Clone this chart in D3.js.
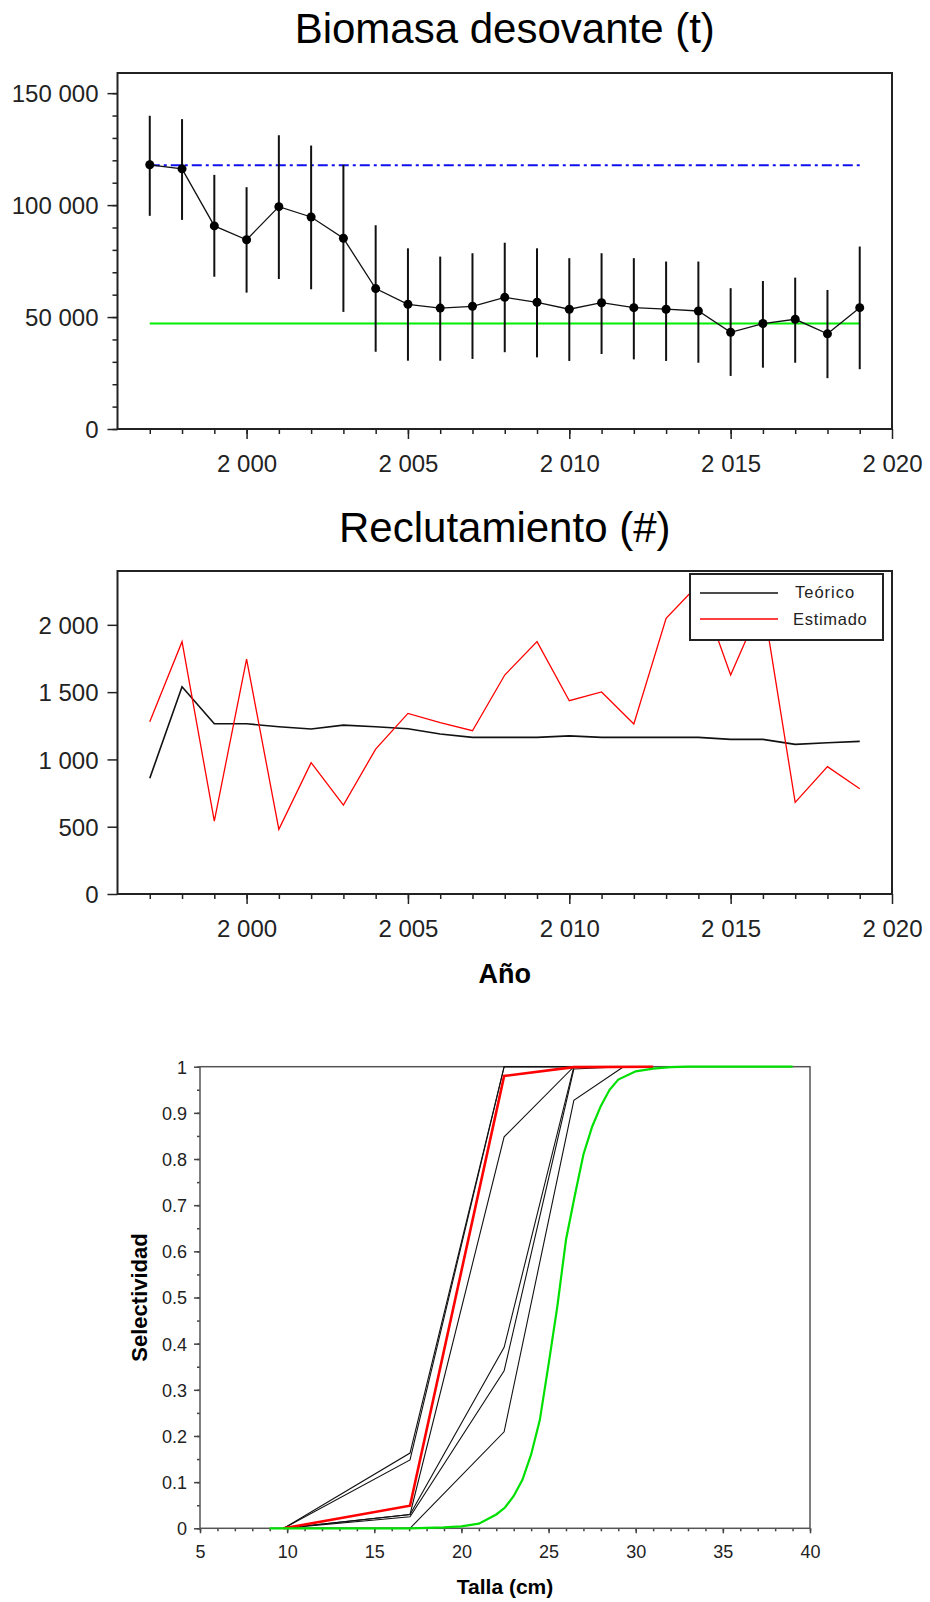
<!DOCTYPE html>
<html>
<head>
<meta charset="utf-8">
<script src="https://cdn.jsdelivr.net/npm/d3@7"></script>
<style>
  body { margin: 0; background: #fff; }
  svg { display: block; font-family: "Liberation Sans", Arial, sans-serif; }
</style>
</head>
<body>
<svg width="930" height="1602"></svg>
<script>
// ---- data ----
const years = [1997, 1998, 1999, 2000, 2001, 2002, 2003, 2004, 2005, 2006, 2007, 2008,
               2009, 2010, 2011, 2012, 2013, 2014, 2015, 2016, 2017, 2018, 2019];

const biomasa   = [118000, 116200, 90700, 84500, 99300, 94700, 85200, 62700, 55700, 54000, 54800, 58800,
                   56600, 53500, 56400, 54200, 53500, 52700, 43200, 47100, 49000, 42500, 54200];
const biomasaLo = [95200, 93400, 68000, 60900, 67000, 62400, 52300, 34500, 30500, 30500, 31300, 34300,
                   32000, 30400, 33500, 31100, 30400, 29600, 23700, 27400, 29600, 22700, 26700];
const biomasaHi = [139900, 138400, 113500, 108000, 131200, 126600, 118000, 91000, 80700, 77000, 78500, 83200,
                   80700, 76300, 78500, 76300, 74800, 74800, 62900, 66100, 67600, 62100, 81500];
const refAlto = 117800;   // blue dash-dot
const refBajo = 47100;    // green

const teorico  = [860, 1540, 1265, 1265, 1243, 1226, 1255, 1243, 1228, 1189, 1164, 1164,
                  1164, 1175, 1164, 1164, 1164, 1164, 1149, 1149, 1112, 1124, 1134];
const estimado = [1280, 1875, 542, 1746, 480, 976, 661, 1077, 1342, 1273, 1213, 1627,
                  1875, 1436, 1501, 1263, 2048, 2300, 1627, 2175, 681, 946, 782];

const yearTicks = [2000, 2005, 2010, 2015, 2020];
const biomasaTicks = [0, 50000, 100000, 150000];
const reclTicks = [0, 500, 1000, 1500, 2000];

// selectividad
const tallaNodos = [9.8, 17.05, 22.45, 26.45, 29.3];
const selNegras = [
  [0, 0.163, 1, 1, 1],
  [0, 0.148, 1, 1, 1],
  [0, 0.03, 0.848, 1, 1],
  [0, 0.03, 0.392, 1, 1],
  [0, 0.025, 0.341, 0.995, 1],
  [0, 0, 0.209, 0.927, 1]
];
const tallaRoja = [9.8, 17.05, 22.45, 26.45, 31];
const selRoja   = [0, 0.049, 0.98, 0.999, 1];
const tallaVerde = [9, 10, 11, 12, 13, 14, 15, 16, 17, 18, 19, 20, 21, 22, 22.5, 23, 23.5, 24, 24.5,
                    25, 25.5, 26, 26.5, 27, 27.5, 28, 28.5, 29, 30, 31, 32, 33, 34, 35, 36, 37, 38, 39];
const selVerde   = [0, 0, 0, 0, 0, 0, 0, 0, 0, 0.001, 0.002, 0.004, 0.01, 0.03, 0.045, 0.07, 0.105, 0.16, 0.235,
                    0.355, 0.48, 0.625, 0.72, 0.81, 0.87, 0.915, 0.95, 0.972, 0.99, 0.996, 0.999, 1, 1, 1, 1, 1, 1, 1];
const tallaTicks = [5, 10, 15, 20, 25, 30, 35, 40];
const selTicks = [0, 0.1, 0.2, 0.3, 0.4, 0.5, 0.6, 0.7, 0.8, 0.9, 1];

// ---- setup ----
const svg = d3.select('svg');
const loc = d3.formatLocale({decimal: '.', thousands: ' ', grouping: [3], currency: ['', '']});
const fmt = loc.format(',d');

function styleAxis(g, size, color) {
  g.select('.domain').remove();
  g.selectAll('.tick line').attr('stroke', color).attr('stroke-width', 1.5);
  g.selectAll('.tick text').attr('font-size', size).attr('fill', '#222')
    .attr('font-family', '"Liberation Sans", Arial, sans-serif');
}

// ---- chart 1: Biomasa ----
const p1 = {left: 117.5, right: 892, top: 73, bottom: 429};
const x1 = d3.scaleLinear().domain([1996, 2020]).range([p1.left, p1.right]);
const y1 = d3.scaleLinear().domain([0, 159000]).range([p1.bottom, p1.top]);

svg.append('text').text('Biomasa desovante (t)')
  .attr('x', (p1.left + p1.right) / 2).attr('y', 43)
  .attr('text-anchor', 'middle').attr('font-size', 42);

svg.append('g').attr('transform', `translate(${p1.left},0)`)
  .call(d3.axisLeft(y1).tickValues(d3.range(0, 160000, 10000)).tickSize(5).tickFormat(''))
  .call(g => styleAxis(g, 24, '#222'));
svg.append('g').attr('transform', `translate(${p1.left},0)`)
  .call(d3.axisLeft(y1).tickValues(biomasaTicks).tickSize(10).tickPadding(9).tickFormat(fmt))
  .call(g => styleAxis(g, 24, '#222'))
  .selectAll('.tick text').attr('dy', '0.36em');
svg.append('g').attr('transform', `translate(0,${p1.bottom})`)
  .call(d3.axisBottom(x1).tickValues(years).tickSize(5).tickFormat(''))
  .call(g => styleAxis(g, 24, '#222'));
svg.append('g').attr('transform', `translate(0,${p1.bottom})`)
  .call(d3.axisBottom(x1).tickValues(yearTicks).tickSize(10).tickPadding(16).tickFormat(fmt))
  .call(g => styleAxis(g, 24, '#222'));

svg.append('rect').attr('x', p1.left).attr('y', p1.top)
  .attr('width', p1.right - p1.left).attr('height', p1.bottom - p1.top)
  .attr('fill', 'none').attr('stroke', '#222').attr('stroke-width', 2);

svg.append('line')
  .attr('x1', x1(years[0])).attr('x2', x1(years[years.length - 1]))
  .attr('y1', y1(refBajo)).attr('y2', y1(refBajo))
  .attr('stroke', '#00ee00').attr('stroke-width', 2);
svg.append('line')
  .attr('x1', x1(years[0])).attr('x2', x1(years[years.length - 1]))
  .attr('y1', y1(refAlto)).attr('y2', y1(refAlto))
  .attr('stroke', '#1010ee').attr('stroke-width', 2)
  .attr('stroke-dasharray', '10,4,3,4');

svg.append('g').selectAll('line').data(years).enter().append('line')
  .attr('x1', d => x1(d)).attr('x2', d => x1(d))
  .attr('y1', (d, i) => y1(biomasaLo[i])).attr('y2', (d, i) => y1(biomasaHi[i]))
  .attr('stroke', '#111').attr('stroke-width', 2);

svg.append('path')
  .attr('d', d3.line().x(d => x1(d)).y((d, i) => y1(biomasa[i]))(years))
  .attr('fill', 'none').attr('stroke', '#111').attr('stroke-width', 1.3);

svg.append('g').selectAll('circle').data(years).enter().append('circle')
  .attr('cx', d => x1(d)).attr('cy', (d, i) => y1(biomasa[i])).attr('r', 4.5)
  .attr('fill', '#000');

// ---- chart 2: Reclutamiento ----
const p2 = {left: 117.5, right: 892, top: 571, bottom: 894};
const x2 = d3.scaleLinear().domain([1996, 2020]).range([p2.left, p2.right]);
const y2 = d3.scaleLinear().domain([0, 2400]).range([p2.bottom, p2.top]);

svg.append('text').text('Reclutamiento (#)')
  .attr('x', (p2.left + p2.right) / 2).attr('y', 542)
  .attr('text-anchor', 'middle').attr('font-size', 42);

svg.append('g').attr('transform', `translate(${p2.left},0)`)
  .call(d3.axisLeft(y2).tickValues(reclTicks).tickSize(10).tickPadding(9).tickFormat(fmt))
  .call(g => styleAxis(g, 24, '#222'))
  .selectAll('.tick text').attr('dy', '0.36em');
svg.append('g').attr('transform', `translate(0,${p2.bottom})`)
  .call(d3.axisBottom(x2).tickValues(years).tickSize(5).tickFormat(''))
  .call(g => styleAxis(g, 24, '#222'));
svg.append('g').attr('transform', `translate(0,${p2.bottom})`)
  .call(d3.axisBottom(x2).tickValues(yearTicks).tickSize(10).tickPadding(16).tickFormat(fmt))
  .call(g => styleAxis(g, 24, '#222'));

svg.append('rect').attr('x', p2.left).attr('y', p2.top)
  .attr('width', p2.right - p2.left).attr('height', p2.bottom - p2.top)
  .attr('fill', 'none').attr('stroke', '#222').attr('stroke-width', 2);

svg.append('path')
  .attr('d', d3.line().x(d => x2(d)).y((d, i) => y2(teorico[i]))(years))
  .attr('fill', 'none').attr('stroke', '#111').attr('stroke-width', 1.6);
svg.append('path')
  .attr('d', d3.line().x(d => x2(d)).y((d, i) => y2(estimado[i]))(years))
  .attr('fill', 'none').attr('stroke', '#ff0000').attr('stroke-width', 1.3);

// legend
const lg = svg.append('g');
lg.append('rect').attr('x', 690).attr('y', 574).attr('width', 193).attr('height', 66)
  .attr('fill', '#fff').attr('stroke', '#222').attr('stroke-width', 2);
lg.append('line').attr('x1', 700).attr('x2', 778).attr('y1', 593).attr('y2', 593)
  .attr('stroke', '#111').attr('stroke-width', 1.6);
lg.append('line').attr('x1', 700).attr('x2', 778).attr('y1', 619).attr('y2', 619)
  .attr('stroke', '#ff0000').attr('stroke-width', 1.6);
lg.append('text').text('Teórico').attr('x', 795).attr('y', 598)
  .attr('font-size', 16.5).attr('letter-spacing', 1).attr('fill', '#222');
lg.append('text').text('Estimado').attr('x', 793).attr('y', 625)
  .attr('font-size', 16.5).attr('letter-spacing', 0.7).attr('fill', '#222');

svg.append('text').text('Año')
  .attr('x', (p2.left + p2.right) / 2).attr('y', 983)
  .attr('text-anchor', 'middle').attr('font-size', 27).attr('font-weight', 'bold');

// ---- chart 3: Selectividad ----
const p3 = {left: 200, right: 810, top: 1066.7, bottom: 1528.3};
const x3 = d3.scaleLinear().domain([5, 40]).range([p3.left, p3.right]);
const y3 = d3.scaleLinear().domain([0, 1]).range([p3.bottom, p3.top]);

svg.append('g').attr('transform', `translate(${p3.left},0)`)
  .call(d3.axisLeft(y3).tickValues(d3.range(0, 1.001, 0.05)).tickSize(3).tickFormat(''))
  .call(g => styleAxis(g, 18, '#444'));
svg.append('g').attr('transform', `translate(${p3.left},0)`)
  .call(d3.axisLeft(y3).tickValues(selTicks).tickSize(6).tickPadding(7).tickFormat(d3.format('')))
  .call(g => styleAxis(g, 18, '#444'))
  .selectAll('.tick text').attr('dy', '0.36em');
svg.append('g').attr('transform', `translate(0,${p3.bottom})`)
  .call(d3.axisBottom(x3).tickValues(d3.range(5, 41, 1)).tickSize(3).tickFormat(''))
  .call(g => styleAxis(g, 18, '#444'));
svg.append('g').attr('transform', `translate(0,${p3.bottom})`)
  .call(d3.axisBottom(x3).tickValues(tallaTicks).tickSize(5).tickPadding(12).tickFormat(d3.format('')))
  .call(g => styleAxis(g, 18, '#444'));

svg.append('rect').attr('x', p3.left).attr('y', p3.top)
  .attr('width', p3.right - p3.left).attr('height', p3.bottom - p3.top)
  .attr('fill', 'none').attr('stroke', '#555').attr('stroke-width', 1.5);

const lineSel = xs => d3.line().x((d, i) => x3(xs[i])).y(d => y3(d));
svg.append('g').selectAll('path').data(selNegras).enter().append('path')
  .attr('d', d => lineSel(tallaNodos)(d))
  .attr('fill', 'none').attr('stroke', '#111').attr('stroke-width', 1.1);
svg.append('path').attr('d', lineSel(tallaRoja)(selRoja))
  .attr('fill', 'none').attr('stroke', '#ff0000').attr('stroke-width', 2.6);
svg.append('path').attr('d', lineSel(tallaVerde)(selVerde))
  .attr('fill', 'none').attr('stroke', '#00e000').attr('stroke-width', 2.2);

svg.append('text').text('Talla (cm)')
  .attr('x', (p3.left + p3.right) / 2).attr('y', 1594)
  .attr('text-anchor', 'middle').attr('font-size', 21).attr('font-weight', 'bold');
svg.append('text').text('Selectividad')
  .attr('transform', 'rotate(-90)')
  .attr('x', -(p3.top + p3.bottom) / 2).attr('y', 147)
  .attr('text-anchor', 'middle').attr('font-size', 22).attr('font-weight', 'bold');
</script>
</body>
</html>
